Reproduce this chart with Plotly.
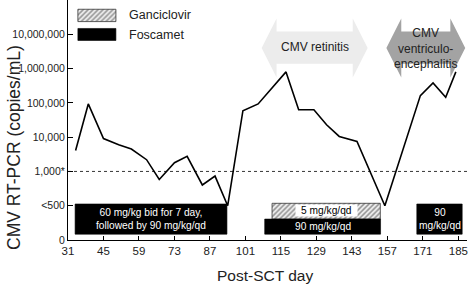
import math
import plotly.graph_objects as go

# ---------------- data ----------------
days = [34, 39, 45, 51, 56, 62, 67, 73, 78, 84, 89, 94, 100, 106,
        117, 122, 128, 133, 138, 145, 156, 170, 175, 180, 184]
copies = [4100, 93000, 9100, 6000, 4500, 2200, 850, 1800, 2750, 760, 910, 500,
          59000, 93000, 800000, 63000, 63000, 23000, 10500, 7500, 500,
          163000, 380000, 145000, 800000]

x_ticks = [31, 45, 59, 73, 87, 101, 115, 129, 143, 157, 171, 185]
y_tick_values = [0, 500, 1000, 10000, 100000, 1000000, 10000000]
y_tick_labels = ["0", "&lt;500", "1,000*", "10,000", "100,000", "1,000,000", "10,000,000"]

# treatment periods (start day, end day, label)
foscamet_periods = [(33.8, 93.7, "60 mg/kg bid for 7 day,<br>followed by 90 mg/kg/qd"),
                    (108.6, 154.3, "90 mg/kg/qd"),
                    (168.6, 186.5, "90<br>mg/kg/qd")]
ganciclovir_periods = [(111.5, 154.2, "5 mg/kg/qd")]

# clinical episodes (start day, end day, label)
retinitis_span = (107.4, 149.2, "CMV retinitis")
ventriculo_span = (156.6, 187.7, "CMV<br>ventriculo-<br>encephalitis")

FONT = "Liberation Sans, Arial, Helvetica, sans-serif"
TXT = "#222222"
X_MAX = 188.4


def ypos(v):
    """Axis scale of the figure: 0, <500, then one step per decade from 1,000."""
    if v <= 0:
        return 0.0
    if v < 1000:
        return 1.0 + max(0.0, math.log2(v / 500.0))
    return math.log10(v) - 1.0


fig = go.Figure()


def box(x0, x1, y0, y1, hatched):
    xs = [x0, x1, x1, x0, x0]
    ys = [y0, y0, y1, y1, y0]
    if hatched:
        fig.add_trace(go.Scatter(
            x=xs, y=ys, mode="lines", fill="toself",
            line=dict(color="#333333", width=0.8),
            fillcolor="white",
            fillpattern=dict(shape="/", fgcolor="#3a3a3a", bgcolor="#eeeeee",
                             size=3.5, solidity=0.45),
            hoverinfo="skip", showlegend=False))
    else:
        fig.add_trace(go.Scatter(
            x=xs, y=ys, mode="lines", fill="toself",
            line=dict(color="black", width=0.6), fillcolor="black",
            hoverinfo="skip", showlegend=False))


# treatment boxes
for (a, b, lab) in ganciclovir_periods:
    box(a, b, 0.61, 1.07, True)
for i, (a, b, lab) in enumerate(foscamet_periods):
    if i == 1:
        box(a, b, 0.17, 0.61, False)
    else:
        box(a, b, 0.17, 1.05, False)

# legend swatches
box(34.9, 49.9, 6.37, 6.73, True)
box(34.9, 49.9, 5.82, 6.17, False)

# main series
fig.add_trace(go.Scatter(
    x=days, y=[ypos(v) for v in copies], mode="lines",
    line=dict(color="black", width=1.6), showlegend=False, hoverinfo="skip"))

shapes = []
# threshold line
shapes.append(dict(type="line", xref="x", yref="y", x0=31, x1=X_MAX,
                   y0=ypos(1000), y1=ypos(1000),
                   line=dict(color="black", width=0.8, dash="dot"), layer="below"))


def arrow(a, b, color):
    hw = 14.9 / 2.539  # head length in days
    ymid, ys0, ys1, yh0, yh1 = 5.60, 5.14, 6.08, 4.74, 6.46
    p = (f"M{a},{ymid} L{a+hw},{yh1} L{a+hw},{ys1} L{b-hw},{ys1} L{b-hw},{yh1} "
         f"L{b},{ymid} L{b-hw},{yh0} L{b-hw},{ys0} L{a+hw},{ys0} L{a+hw},{yh0} Z")
    return dict(type="path", xref="x", yref="y", path=p, fillcolor=color,
                line=dict(width=0), layer="below")


shapes.append(arrow(retinitis_span[0], retinitis_span[1], "#ececec"))
shapes.append(arrow(ventriculo_span[0], ventriculo_span[1], "#a3a3a3"))

annotations = []
annotations.append(dict(x=(retinitis_span[0] + retinitis_span[1]) / 2, y=5.62, xref="x", yref="y",
                        text=retinitis_span[2], showarrow=False,
                        font=dict(family=FONT, size=12, color=TXT)))
annotations.append(dict(x=(ventriculo_span[0] + ventriculo_span[1]) / 2 - 0.3, y=5.6, xref="x", yref="y",
                        text=ventriculo_span[2], showarrow=False,
                        font=dict(family=FONT, size=12, color=TXT)))

# box labels
BOXFONT = 10.2
a, b, lab = foscamet_periods[0]
annotations.append(dict(x=(a + b) / 2, y=0.61, xref="x", yref="y", text=lab, showarrow=False,
                        font=dict(family=FONT, size=BOXFONT, color="white")))
a, b, lab = foscamet_periods[1]
annotations.append(dict(x=(a + b) / 2, y=0.39, xref="x", yref="y", text=lab, showarrow=False,
                        font=dict(family=FONT, size=BOXFONT, color="white")))
a, b, lab = foscamet_periods[2]
annotations.append(dict(x=(a + b) / 2, y=0.61, xref="x", yref="y", text=lab, showarrow=False,
                        font=dict(family=FONT, size=BOXFONT, color="white")))
a, b, lab = ganciclovir_periods[0]
annotations.append(dict(x=133.0, y=0.85, xref="x", yref="y", text="&#8194;" + lab + "&#8194;",
                        showarrow=False, bgcolor="white", borderpad=0,
                        font=dict(family=FONT, size=BOXFONT, color="black")))

# legend labels
annotations.append(dict(x=54.2, y=6.55, xref="x", yref="y", text="Ganciclovir", showarrow=False,
                        xanchor="left", font=dict(family=FONT, size=12.5, color=TXT)))
annotations.append(dict(x=54.2, y=5.99, xref="x", yref="y", text="Foscamet", showarrow=False,
                        xanchor="left", font=dict(family=FONT, size=12.5, color=TXT)))

# axis titles
annotations.append(dict(x=(14 - 68) / 399.0, y=(240 - 148) / 240.0, xref="paper", yref="paper",
                        xanchor="center", yanchor="middle",
                        text="CMV RT-PCR (copies/mL)", showarrow=False, textangle=-90,
                        font=dict(family=FONT, size=17.5, color=TXT)))
annotations.append(dict(x=(265 - 68) / 399.0, y=(240 - 275) / 240.0, xref="paper", yref="paper",
                        xanchor="center", yanchor="middle",
                        text="Post-SCT day", showarrow=False,
                        font=dict(family=FONT, size=15.5, color=TXT)))

fig.update_layout(
    width=468, height=287,
    margin=dict(l=68, r=1, t=0, b=47, autoexpand=False),
    paper_bgcolor="white", plot_bgcolor="white",
    shapes=shapes, annotations=annotations,
    showlegend=False,
    font=dict(family=FONT, color=TXT),
)
fig.update_xaxes(range=[31, X_MAX], tickvals=x_ticks, ticks="inside", ticklen=4,
                 tickcolor="black", showline=True, linecolor="black", linewidth=1,
                 showgrid=False, zeroline=False, automargin=False,
                 ticklabeloverflow="allow",
                 tickfont=dict(family=FONT, size=11.5, color=TXT))
fig.update_yaxes(range=[0, 7.0], tickvals=[ypos(v) for v in y_tick_values], ticktext=y_tick_labels,
                 ticks="inside", ticklen=5, tickcolor="black", showline=True, linecolor="black",
                 linewidth=1, showgrid=False, zeroline=False, automargin=False,
                 ticklabeloverflow="allow",
                 tickfont=dict(family=FONT, size=10.5, color=TXT))

fig.write_html("out.html", config={"displayModeBar": False},
               post_script="document.body.style.margin='0';document.body.style.overflow='hidden';")
